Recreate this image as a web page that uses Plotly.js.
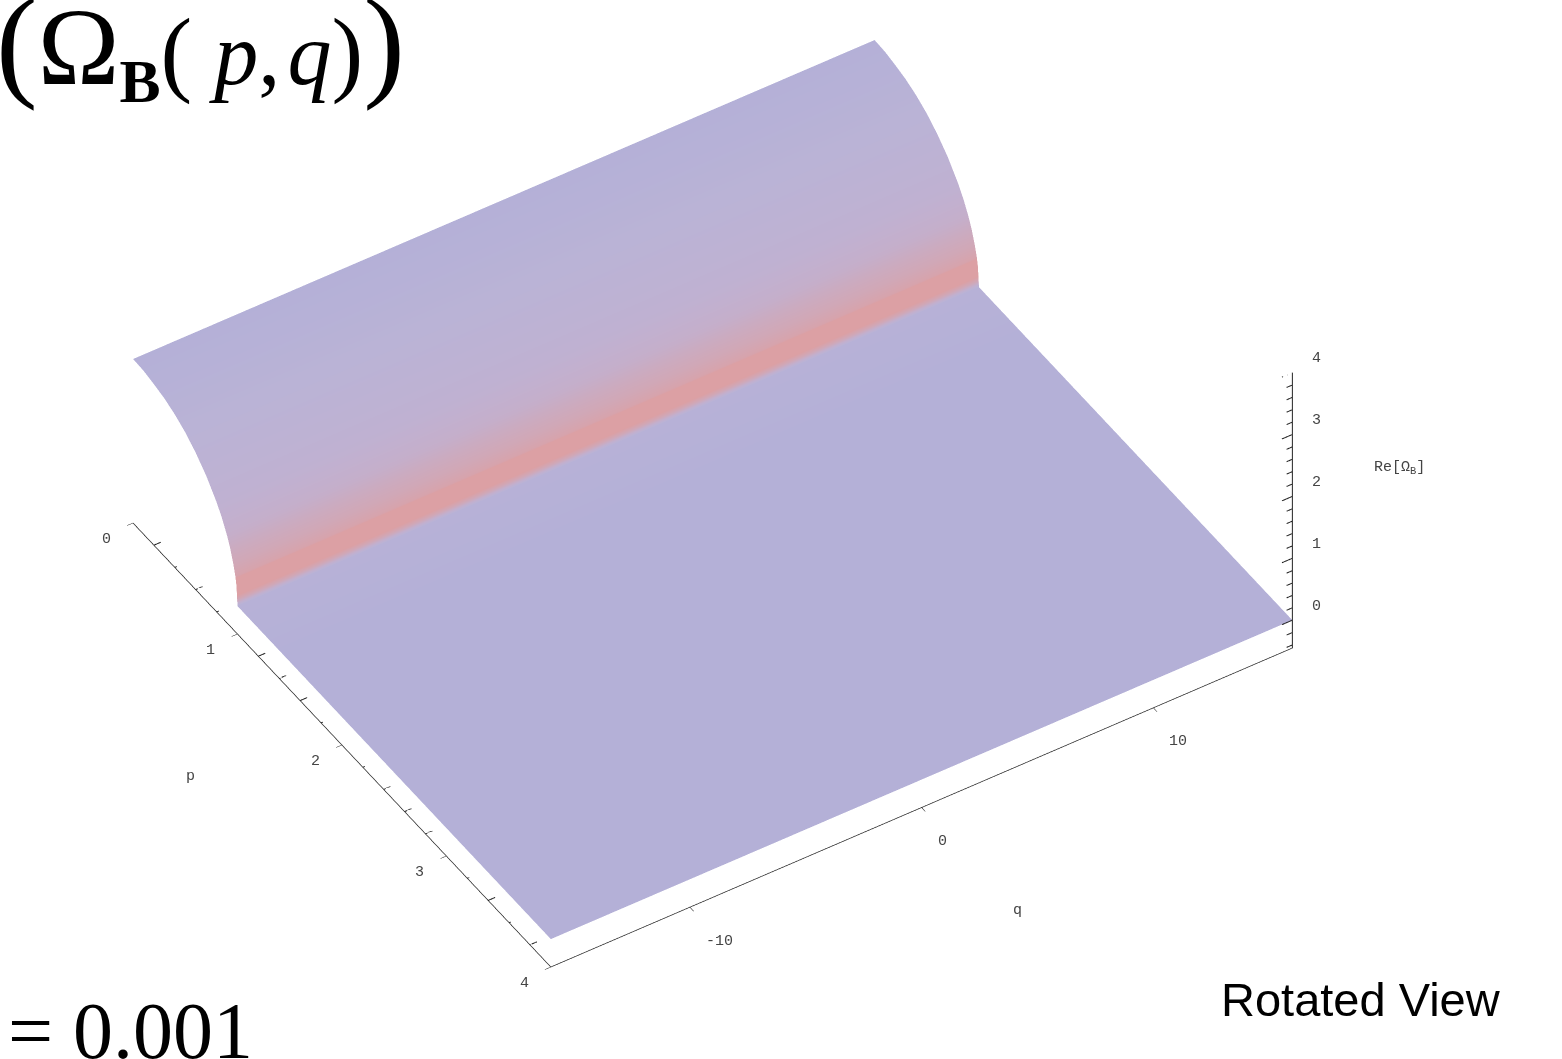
<!DOCTYPE html>
<html>
<head>
<meta charset="utf-8">
<script src="https://cdn.plot.ly/plotly-3.0.1.min.js"></script>
<style>
  html, body { margin: 0; padding: 0; background: #ffffff; overflow: hidden; }
  #plot { width: 1562px; height: 1059px; }
</style>
</head>
<body>
<div id="plot"></div>
<script>
// Profile of Re[Ω_B] across p (the surface does not change along q)
const pVals = [0, 0.1, 0.2, 0.3, 0.4, 0.5, 0.6, 0.7, 0.8, 0.85, 0.9, 0.93, 0.96, 0.98, 0.99, 1.0, 1.5, 2.0, 2.5, 3.0, 3.5, 4.0];
const reOmega = [2.20, 2.19, 2.15, 2.10, 2.02, 1.91, 1.76, 1.57, 1.32, 1.16, 0.96, 0.81, 0.61, 0.44, 0.31, 0.0, 0.0, 0.0, 0.0, 0.0, 0.0, 0.0];
const qVals = [-16, -8, 0, 8, 16];

// axis ranges and ticks
const pRange = [0, 4];
const qRange = [-16, 16];
const zRange = [-0.45, 4];
const pTicks = [0, 1, 2, 3, 4];
const pMinor = [0.2, 0.4, 0.6, 0.8, 1.2, 1.4, 1.6, 1.8, 2.2, 2.4, 2.6, 2.8, 3.2, 3.4, 3.6, 3.8];
const qTicks = [-10, 0, 10];
const zTicks = [0, 1, 2, 3, 4];
const zMinor = [-0.4, -0.2, 0.2, 0.4, 0.6, 0.8, 1.2, 1.4, 1.6, 1.8, 2.2, 2.4, 2.6, 2.8, 3.2, 3.4, 3.6, 3.8];

// z[i][j]: row i follows q, column j follows p
const zGrid = qVals.map(() => reOmega.slice());

// shade by steepness of the profile so the fold near p = 1 turns pink
const steep = pVals.map((p, j) => {
  const a = Math.max(j - 1, 0), b = Math.min(j + 1, pVals.length - 1);
  return Math.abs((reOmega[b] - reOmega[a]) / (pVals[b] - pVals[a]));
});
const colorGrid = qVals.map(() => steep.slice());

const monoFont = {family: 'Liberation Mono, Courier New, monospace', size: 15, color: '#444444'};

function axis(extra) {
  const base = {
    showbackground: false,
    showgrid: false,
    zeroline: false,
    showline: true,
    linecolor: '#222222',
    linewidth: 1.5,
    ticks: 'inside',
    ticklen: 7,
    tickcolor: '#222222',
    showticklabels: false,
    showspikes: false,
    title: {text: ''}
  };
  for (const k in extra) base[k] = extra[k];
  return base;
}

const surface = {
  type: 'surface',
  x: pVals,
  y: qVals,
  z: zGrid,
  surfacecolor: colorGrid,
  cmin: 0,
  cmax: 12,
  colorscale: [[0, '#b4b0d7'], [0.1, '#bab3d6'], [0.3, '#c2b0cf'], [0.6, '#d0a8b8'], [1, '#dca0a4']],
  showscale: false,
  hoverinfo: 'skip',
  lighting: {ambient: 1, diffuse: 0, specular: 0, roughness: 1, fresnel: 0},
  contours: {x: {show: false}, y: {show: false}, z: {show: false}}
};

// vertical axis standing at the front-right corner (p = 4, q = 16), with major and minor ticks
const cornerP = pRange[1], cornerQ = qRange[1];
const zx = [cornerP, cornerP], zy = [cornerQ, cornerQ], zz = [zRange[0], zRange[1]];
function addTick(a, b) {
  zx.push(null, a[0], b[0]); zy.push(null, a[1], b[1]); zz.push(null, a[2], b[2]);
}
zTicks.forEach(v => addTick([cornerP, cornerQ, v], [cornerP, cornerQ - 0.45, v]));
zMinor.forEach(v => addTick([cornerP, cornerQ, v], [cornerP, cornerQ - 0.25, v]));
// minor ticks along p on the left edge
pMinor.forEach(v => addTick([v, qRange[0], zRange[0]], [v, qRange[0] + 0.3, zRange[0]]));

const axisLines = {
  type: 'scatter3d',
  mode: 'lines',
  x: zx, y: zy, z: zz,
  connectgaps: false,
  line: {color: '#222222', width: 2},
  hoverinfo: 'skip',
  showlegend: false
};

// tick labels and axis titles, pinned to the axis edges
const sceneAnn = [];
pTicks.forEach(v => sceneAnn.push({
  x: v, y: qRange[0], z: zRange[0], text: String(v), showarrow: false,
  xanchor: 'right', yanchor: 'middle', xshift: -20, yshift: -16, font: monoFont
}));
qTicks.forEach(v => sceneAnn.push({
  x: pRange[1], y: v, z: zRange[0], text: String(v), showarrow: false,
  xanchor: 'left', yanchor: 'middle', xshift: 14, yshift: -34, font: monoFont
}));
zTicks.forEach(v => sceneAnn.push({
  x: cornerP, y: cornerQ, z: v, text: String(v), showarrow: false,
  xanchor: 'left', yanchor: 'middle', xshift: 18, yshift: 14, font: monoFont
}));
sceneAnn.push({
  x: 2.15, y: qRange[0], z: zRange[0], text: 'p', showarrow: false,
  xanchor: 'center', yanchor: 'middle', xshift: -167, yshift: -15, font: monoFont
});
sceneAnn.push({
  x: pRange[1], y: 2.5, z: zRange[0], text: 'q', showarrow: false,
  xanchor: 'center', yanchor: 'middle', xshift: 38, yshift: -128, font: monoFont
});
sceneAnn.push({
  x: cornerP, y: cornerQ, z: 2.25, text: 'Re[Ω<sub>B</sub>]', showarrow: false,
  xanchor: 'left', yanchor: 'middle', xshift: 80, yshift: 13, font: monoFont
});

const viewDir = {x: 0.844, y: -0.537, z: 0.918};
const lookAt = {x: 0.157, y: 0.053, z: -0.114};

const layout = {
  width: 1562,
  height: 1059,
  margin: {l: 0, r: 0, t: 0, b: 0},
  paper_bgcolor: '#ffffff',
  showlegend: false,
  hovermode: false,
  scene: {
    domain: {x: [0, 1], y: [0, 1]},
    aspectmode: 'manual',
    aspectratio: {x: 1.47, y: 1.66, z: 0.706},
    camera: {
      eye: {x: viewDir.x + lookAt.x, y: viewDir.y + lookAt.y, z: viewDir.z + lookAt.z},
      up: {x: 0, y: 0, z: 1},
      center: lookAt,
      projection: {type: 'orthographic'}
    },
    xaxis: axis({range: pRange, tickvals: pTicks}),
    yaxis: axis({range: qRange, tickvals: qTicks}),
    zaxis: {
      range: zRange, showbackground: false, showgrid: false, zeroline: false,
      showline: false, ticks: '', showticklabels: false, showspikes: false,
      title: {text: ''}
    },
    annotations: sceneAnn
  },
  annotations: [
    {
      xref: 'paper', yref: 'paper', x: -0.004, y: 1.027,
      xanchor: 'left', yanchor: 'top', showarrow: false,
      font: {family: 'Liberation Serif, Times New Roman, serif', size: 88, color: '#000000'},
      text: '<span style="font-size:125px">(</span><span style="font-size:110px">Ω</span><sub><b>B</b></sub><span style="font-size:95px">(</span> <i>p</i>,\u200a<i>q</i><span style="font-size:95px">)</span><span style="font-size:125px">)</span>'
    },
    {
      xref: 'paper', yref: 'paper', x: 0.004, y: -0.017,
      xanchor: 'left', yanchor: 'bottom', showarrow: false,
      font: {family: 'Liberation Serif, Times New Roman, serif', size: 80, color: '#000000'},
      text: '= 0.001'
    },
    {
      xref: 'paper', yref: 'paper', x: 0.871, y: 0.029,
      xanchor: 'center', yanchor: 'bottom', showarrow: false,
      font: {family: 'Liberation Sans, Arial, sans-serif', size: 47, color: '#000000'},
      text: 'Rotated View'
    }
  ]
};

Plotly.newPlot('plot', [surface, axisLines], layout, {displayModeBar: false});
</script>
</body>
</html>
